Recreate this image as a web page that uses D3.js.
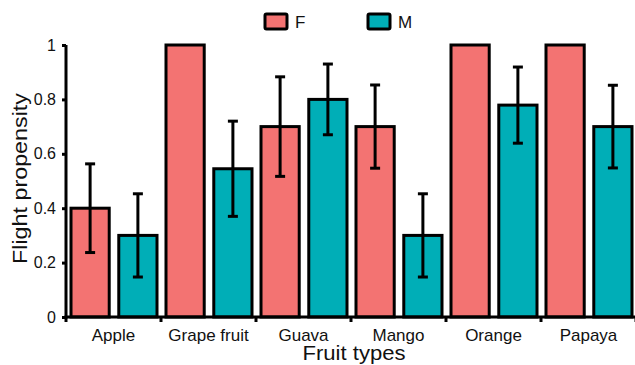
<!DOCTYPE html>
<html>
<head>
<meta charset="utf-8">
<script src="https://cdn.jsdelivr.net/npm/d3@7"></script>
<style>
  body { margin: 0; background: #fff; }
  text { font-family: "Liberation Sans", Arial, sans-serif; fill: #111; }
</style>
</head>
<body>
<script>
// fruit types and group means with error half-widths
var fruits = ["Apple", "Grape fruit", "Guava", "Mango", "Orange", "Papaya"];
var groups = ["F", "M"];
var valuesF = [0.4, 1.0, 0.7, 0.7, 1.0, 1.0];
var valuesM = [0.3, 0.545, 0.8, 0.3, 0.779, 0.7];
var errF = [0.163, 0, 0.183, 0.153, 0, 0];
var errM = [0.153, 0.175, 0.13, 0.153, 0.14, 0.152];
var yTicks = [0, 0.2, 0.4, 0.6, 0.8, 1];

var colors = {F: "#F37372", M: "#00AEB7"};

var width = 635, height = 365;
var margin = {left: 66, right: -1, top: 45, bottom: 48};
var innerW = width - margin.left - margin.right;
var innerH = height - margin.top - margin.bottom;

var rows = [];
fruits.forEach(function(f, i) {
  rows.push({fruit: f, group: "F", value: valuesF[i], err: errF[i]});
  rows.push({fruit: f, group: "M", value: valuesM[i], err: errM[i]});
});

var x = d3.scaleBand().domain(fruits).range([0, innerW]).paddingInner(0).paddingOuter(0);
var xg = d3.scaleBand().domain(groups).range([5, x.bandwidth() - 4]).paddingInner(0.2);
var y = d3.scaleLinear().domain([0, 1]).range([innerH, 0]);

var svg = d3.select("body").append("svg").attr("width", width).attr("height", height);
var g = svg.append("g").attr("transform", "translate(" + margin.left + "," + margin.top + ")");

// bars
g.selectAll("rect.bar").data(rows).enter().append("rect")
  .attr("class", "bar")
  .attr("x", function(d) { return x(d.fruit) + xg(d.group); })
  .attr("y", function(d) { return y(d.value); })
  .attr("width", xg.bandwidth())
  .attr("height", function(d) { return innerH - y(d.value); })
  .attr("fill", function(d) { return colors[d.group]; })
  .attr("stroke", "#000")
  .attr("stroke-width", 3);

// error bars
var eb = g.selectAll("g.err").data(rows.filter(function(d) { return d.err > 0; })).enter().append("g")
  .attr("class", "err")
  .attr("transform", function(d) { return "translate(" + (x(d.fruit) + xg(d.group) + xg.bandwidth() / 2) + ",0)"; });
eb.append("line")
  .attr("y1", function(d) { return y(d.value - d.err); })
  .attr("y2", function(d) { return y(d.value + d.err); })
  .attr("stroke", "#000").attr("stroke-width", 3);
eb.selectAll("line.cap").data(function(d) { return [d.value - d.err, d.value + d.err]; }).enter().append("line")
  .attr("class", "cap")
  .attr("x1", -5).attr("x2", 5)
  .attr("y1", function(v) { return y(v); })
  .attr("y2", function(v) { return y(v); })
  .attr("stroke", "#000").attr("stroke-width", 3);

// y axis
var yAxis = d3.axisLeft(y).tickValues(yTicks).tickFormat(d3.format("~g")).tickSizeInner(4).tickSizeOuter(0).tickPadding(6);
var ya = g.append("g").attr("class", "axis y").call(yAxis);
ya.select(".domain").attr("stroke-width", 3).attr("d", "M0," + (innerH + 1.5) + "V0");
ya.selectAll(".tick line").attr("stroke-width", 3);
ya.selectAll(".tick text").attr("font-size", 16).attr("font-family", null).style("fill", "#111");

// x axis with ticks at category boundaries
var xa = g.append("g").attr("class", "axis x").attr("transform", "translate(0," + innerH + ")");
xa.append("line").attr("x1", -1.5).attr("x2", innerW).attr("stroke", "#000").attr("stroke-width", 3);
xa.selectAll("line.tk").data(fruits).enter().append("line")
  .attr("class", "tk")
  .attr("x1", function(d) { return x(d) + x.bandwidth(); })
  .attr("x2", function(d) { return x(d) + x.bandwidth(); })
  .attr("y1", 0).attr("y2", 5)
  .attr("stroke", "#000").attr("stroke-width", 3);
xa.append("line").attr("x1", 0).attr("x2", 0).attr("y1", 0).attr("y2", 5).attr("stroke", "#000").attr("stroke-width", 3);
xa.selectAll("text.lbl").data(fruits).enter().append("text")
  .attr("class", "lbl")
  .attr("x", function(d) { return x(d) + x.bandwidth() / 2; })
  .attr("y", 24)
  .attr("text-anchor", "middle")
  .attr("font-size", 17)
  .text(function(d) { return d; });

// axis titles
svg.append("text")
  .attr("x", 354)
  .attr("y", 360)
  .attr("text-anchor", "middle")
  .attr("font-size", 20)
  .attr("textLength", 103)
  .attr("lengthAdjust", "spacingAndGlyphs")
  .text("Fruit types");
svg.append("text")
  .attr("transform", "translate(27,178.5) rotate(-90)")
  .attr("text-anchor", "middle")
  .attr("font-size", 19.5)
  .attr("textLength", 171)
  .attr("lengthAdjust", "spacingAndGlyphs")
  .text("Flight propensity");

// legend
var legendX = [265, 368];
var lg = svg.selectAll("g.legend").data(groups).enter().append("g")
  .attr("class", "legend")
  .attr("transform", function(d, i) { return "translate(" + legendX[i] + ",14)"; });
lg.append("rect")
  .attr("width", 22).attr("height", 15)
  .attr("rx", 1.5)
  .attr("fill", function(d) { return colors[d]; })
  .attr("stroke", "#000").attr("stroke-width", 3);
lg.append("text")
  .attr("x", 30).attr("y", 13.5)
  .attr("font-size", 17)
  .text(function(d) { return d; });
</script>
</body>
</html>
